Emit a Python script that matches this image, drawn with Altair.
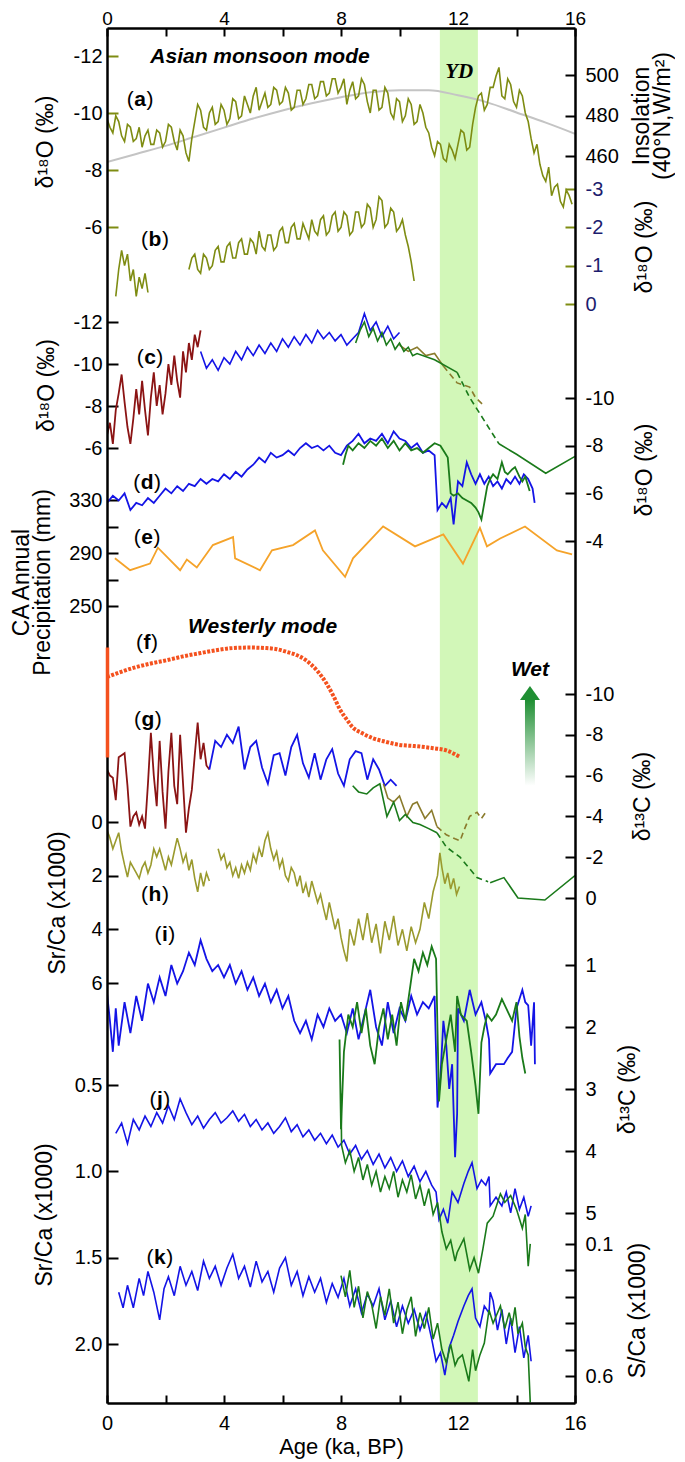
import altair as alt
import pandas as pd

FONT = "Liberation Sans"
SERIF = "Liberation Serif"
TOP = 28
W, H = 468, 1375

# ---------------- data ----------------
A_AGE = [round(0.1 * i, 1) for i in range(160)]
A_VAL = [-9.8, -9.5, -9.3, -9.9, -9.7, -9.2, -9.0, -9.6, -9.5, -9.0,
         -9.1, -9.5, -8.8, -9.2, -9.4, -8.9, -8.9, -9.4, -9.3, -8.8,
         -9.0, -9.6, -9.5, -9.0, -8.7, -9.4, -9.2, -8.6, -8.3, -9.1,
         -9.7, -10.3, -10.1, -9.5, -9.4, -10.0, -10.2, -9.6, -9.7, -10.3,
         -10.1, -9.6, -9.8, -10.5, -10.4, -9.8, -9.9, -10.6, -10.3, -10.0,
         -10.6, -10.9, -10.1, -10.4, -10.7, -10.2, -10.3, -10.9, -10.8, -10.3,
         -10.4, -10.9, -10.7, -10.1, -10.2, -10.8, -10.8, -10.3, -10.5, -11.0,
         -11.0, -10.5, -10.6, -11.1, -11.1, -10.6, -10.7, -11.2, -11.2, -10.7,
         -10.9, -11.2, -10.3, -10.8, -11.1, -10.5, -10.6, -11.2, -11.0, -10.4,
         -10.0, -10.8, -10.8, -10.1, -10.2, -10.9, -10.7, -10.0, -9.8, -10.5,
         -10.4, -9.7, -9.9, -10.5, -10.3, -9.6, -9.7, -10.3, -10.0, -9.5,
         -9.3, -8.8, -8.5, -9.0, -8.9, -8.4, -8.3, -8.9, -8.7, -8.4,
         -8.9, -9.4, -9.3, -8.7, -8.8, -9.6, -10.2, -10.6, -10.7, -10.1,
         -10.3, -10.9, -10.9, -11.3, -11.6, -10.6, -10.5, -11.2, -11.0, -10.4,
         -10.2, -10.8, -10.6, -10.0, -9.7, -9.1, -8.6, -8.9, -8.2, -7.8,
         -7.6, -8.1, -7.1, -7.4, -7.5, -6.9, -6.7, -7.3, -7.1, -6.8]

INS_AGE = list(range(17))
INS_VAL = [457, 461, 465, 469.5, 474, 478.5, 482.5, 486, 489, 491.5, 492.5, 492.5,
           490, 486.5, 481.5, 476.5, 471]

B1_AGE = [0.3, 0.4, 0.5, 0.6, 0.7, 0.8, 0.9, 1.0, 1.1, 1.2, 1.3, 1.4]
B1_VAL = [-0.2, -0.9, -1.4, -1.0, -1.3, -0.6, -0.9, -0.2, -0.7, -0.4, -0.8, -0.3]
B2_AGE = [round(2.8 + 0.1 * i, 1) for i in range(78)]
B2_VAL = [-0.9, -1.2, -1.3, -0.9, -0.8, -1.3, -1.2, -0.9, -1.0, -1.4,
          -1.5, -1.1, -1.1, -1.5, -1.6, -1.2, -1.2, -1.6, -1.7, -1.3,
          -1.3, -1.7, -1.6, -1.3, -1.9, -1.5, -1.4, -1.8, -1.8, -1.4,
          -1.5, -1.9, -2.0, -1.6, -1.6, -2.0, -2.1, -1.7, -1.7, -2.1,
          -1.9, -1.7, -2.2, -1.9, -1.8, -2.2, -2.3, -1.8, -1.9, -2.3,
          -2.4, -1.9, -2.0, -2.4, -2.3, -1.8, -1.9, -2.4, -2.4, -2.0,
          -2.1, -2.6, -2.5, -2.0, -2.2, -2.8, -2.7, -2.0, -2.1, -2.5,
          -2.4, -1.9, -2.0, -2.2, -1.8, -1.5, -1.1, -0.6]

C_RED_AGE = [round(0.1 * i, 1) for i in range(33)]
C_RED_VAL = [-6.6, -7.2, -6.2, -7.8, -8.6, -9.5, -8.2, -7.0, -6.2, -7.4,
             -8.8, -7.6, -9.2, -7.8, -6.6, -8.4, -9.6, -8.0, -9.0, -7.6,
             -8.6, -10.0, -9.0, -10.4, -9.2, -8.4, -10.6, -9.6, -11.0, -10.2,
             -11.4, -10.8, -11.6]
C_BLUE_AGE = [round(3.2 + 0.2 * i, 1) for i in range(35)]
C_BLUE_VAL = [-10.6, -9.8, -10.2, -9.7, -10.3, -10.0, -10.6, -10.2, -10.8, -10.4,
              -10.9, -10.5, -11.0, -10.6, -11.2, -10.8, -11.3, -10.9, -11.4, -11.0,
              -11.6, -11.2, -11.5, -11.1, -11.4, -10.9, -11.2, -11.5, -12.4, -11.6,
              -12.0, -11.3, -11.8, -11.2, -11.5]
C_GREEN_AGE = [8.5, 8.65, 8.8, 8.95, 9.1, 9.25, 9.4, 9.55, 9.7, 9.85, 10.0, 10.15, 10.3, 10.45, 10.6, 11.2, 11.97]
C_GREEN_VAL = [-11.0, -11.6, -12.0, -11.3, -11.7, -11.1, -11.5, -10.9, -11.2, -10.7, -11.0, -10.6, -10.8, -10.4, -10.5, -10.2, -9.6]
C_GREEN_D_AGE = [11.97, 12.4, 13.4]
C_GREEN_D_VAL = [-9.6, -8.4, -6.2]
C_GREEN_S_AGE = [13.4, 14.0, 15.0, 16.0]
C_GREEN_S_VAL = [-6.2, -5.7, -4.8, -5.6]
C_BROWN_AGE = [10.0, 10.3, 10.6, 10.9, 11.2, 11.5]
C_BROWN_VAL = [-10.9, -10.6, -10.8, -10.4, -10.5, -9.9]
C_BROWN_D_AGE = [11.5, 11.97, 12.4, 12.6, 12.9]
C_BROWN_D_VAL = [-9.9, -9.1, -8.9, -8.4, -8.0]

D_BLUE_AGE = [round(0.2 * i, 1) for i in range(57)] + [
    11.3, 11.45, 11.6, 11.75, 11.85, 12.0, 12.15, 12.3, 12.45, 12.6, 12.75, 12.9,
    13.05, 13.2, 13.35, 13.5, 13.65, 13.8, 13.95, 14.1, 14.25, 14.4, 14.55, 14.62]
D_BLUE_VAL = [-5.6, -5.9, -5.7, -6.0, -5.3, -5.6, -5.5, -5.8, -5.6, -5.9,
              -6.2, -6.0, -6.3, -6.1, -6.4, -6.3, -6.6, -6.4, -6.6, -6.5,
              -6.8, -6.6, -6.9, -6.7, -7.0, -7.2, -7.5, -7.3, -7.7, -7.5,
              -7.6, -7.8, -7.6, -7.9, -8.1, -7.9, -8.0, -7.8, -8.0, -7.7,
              -7.6, -8.0, -8.2, -8.5, -8.1, -8.3, -8.2, -8.5, -8.1, -8.6,
              -8.3, -8.2, -7.9, -8.1, -7.7, -7.8, -7.6,
              -5.3, -5.6, -5.4, -5.8, -4.7, -6.5, -6.3, -7.3, -6.8, -6.4, -6.8, -6.4,
              -6.7, -6.3, -6.5, -6.2, -6.6, -6.4, -6.7, -6.4, -6.8, -6.6, -6.2, -5.6]
D_GREEN_AGE = [8.07, 8.15, 8.25, 8.4, 8.6, 8.8, 9.0, 9.2, 9.4, 9.6, 9.8, 10.0, 10.2, 10.4,
               10.6, 10.8, 11.0, 11.2, 11.4, 11.55, 11.65, 11.75, 11.85, 12.0, 12.15, 12.3,
               12.45, 12.6, 12.7, 12.8, 12.9, 13.0, 13.1, 13.2, 13.35, 13.5, 13.6, 13.7,
               13.85, 13.95, 14.1, 14.2, 14.3, 14.45]
D_GREEN_VAL = [-7.2, -7.6, -8.0, -7.8, -8.1, -7.9, -8.2, -8.0, -8.3, -7.9, -8.2, -7.8, -8.1, -7.8,
               -7.9, -7.7, -7.9, -8.1, -8.0, -7.7, -7.5, -6.0, -5.9, -6.0, -5.8, -5.7,
               -5.6, -5.4, -5.2, -4.9, -5.6, -6.3, -6.6, -6.8, -6.6, -7.3, -6.9, -6.8,
               -7.0, -7.1, -6.7, -6.5, -6.7, -6.1]

E_AGE = [0.27, 0.79, 1.47, 1.74, 2.5, 2.73, 3.07, 3.62, 4.31, 4.38, 5.23, 5.64, 6.36, 7.11,
         7.38, 8.14, 8.41, 9.44, 10.53, 11.5, 12.17, 12.75, 12.99, 13.44, 14.29, 15.38, 15.9]
E_VAL = [286, 277, 282, 294, 277, 285, 279, 296, 302, 286, 277, 292, 296, 307,
         292, 272, 286, 310, 295, 304, 282, 309, 295, 301, 310, 292, 289]

F_AGE = [0.0, 0.9, 1.5, 2.05, 2.6, 3.2, 3.7, 4.3, 4.9, 5.45, 5.8, 6.15, 6.5, 6.8, 7.2, 7.5,
         7.75, 7.97, 8.2, 8.4, 8.7, 9.1, 9.5, 10.0, 10.5, 11.15, 11.6, 12.07]
F_VAL = [0.727, 0.81, 0.85, 0.88, 0.915, 0.945, 0.97, 0.99, 0.995, 0.99, 0.98, 0.955, 0.925,
         0.88, 0.78, 0.67, 0.55, 0.43, 0.34, 0.27, 0.22, 0.17, 0.14, 0.11, 0.1, 0.08, 0.06, 0.0]

G_RED_AGE = [round(0.1 * i, 1) for i in range(36)]
G_RED_VAL = [-6.3, -6.0, -5.9, -4.8, -6.9, -7.0, -7.1, -5.5, -3.5, -4.0,
             -4.2, -3.6, -4.0, -3.4, -5.6, -8.1, -6.0, -4.5, -7.7, -5.2,
             -3.4, -6.2, -8.1, -5.5, -4.6, -8.0, -5.6, -3.2, -4.4, -5.3,
             -7.0, -8.6, -6.8, -7.6, -6.5, -6.3]
G_BLUE_AGE = [round(3.5 + 0.2 * i, 1) for i in range(33)]
G_BLUE_VAL = [-6.3, -7.7, -7.4, -8.0, -7.6, -8.4, -6.3, -7.4, -7.7, -6.4,
              -5.6, -7.0, -7.1, -6.0, -7.4, -8.0, -6.6, -5.9, -7.1, -5.8,
              -6.8, -7.3, -6.1, -5.5, -6.8, -7.2, -7.1, -5.8, -6.8, -6.3,
              -5.5, -5.8, -5.5]
G_GREEN_AGE = [8.4, 8.6, 8.88, 9.1, 9.33, 9.57, 9.8, 10.0, 10.2, 10.46, 10.7, 11.0, 11.28]
G_GREEN_VAL = [-5.5, -5.2, -5.1, -5.4, -5.6, -4.0, -4.7, -3.8, -4.1, -3.7, -3.6, -3.4, -3.2]
G_GREEN_D_AGE = [11.28, 11.6, 12.07, 12.65, 13.03]
G_GREEN_D_VAL = [-3.2, -2.5, -2.0, -1.0, -0.8]
G_GREEN_S_AGE = [13.1, 13.57, 14.05, 14.97, 16.0]
G_GREEN_S_VAL = [-0.75, -1.0, 0.0, 0.1, -1.1]
G_OLIVE_AGE = [9.45, 9.6, 9.8, 10.0, 10.25, 10.45, 10.6, 10.87, 11.1, 11.28]
G_OLIVE_VAL = [-5.6, -4.9, -4.7, -5.0, -4.0, -4.6, -4.7, -3.9, -4.3, -3.5]
G_OLIVE_D_AGE = [11.28, 11.6, 11.9, 12.07, 12.2, 12.4, 12.65, 12.8, 13.0]
G_OLIVE_D_VAL = [-3.5, -3.1, -2.9, -2.8, -3.3, -4.0, -4.2, -3.9, -4.3]

H1_AGE = [round(0.1 * i, 1) for i in range(36)]
H1_VAL = [0.3, 0.6, 1.0, 0.7, 0.4, 1.1, 1.6, 2.05, 1.5, 1.7,
          1.9, 2.1, 1.7, 1.5, 1.9, 1.6, 1.0, 1.3, 1.0, 1.4,
          1.8, 1.3, 1.6, 1.1, 0.6, 1.0, 1.5, 1.2, 1.8, 1.4,
          2.1, 2.6, 1.9, 2.4, 1.9, 2.2]
H2_AGE = [round(3.8 + 0.1 * i, 1) for i in range(42)] + [
    8.0, 8.1, 8.2, 8.3, 8.45, 8.6, 8.75, 8.9, 9.05, 9.2, 9.35, 9.5, 9.65, 9.8, 9.95, 10.1,
    10.25, 10.4, 10.55, 10.7, 10.85, 11.0, 11.15, 11.3, 11.38, 11.45, 11.55, 11.65, 11.75,
    11.85, 11.95, 12.05]
H2_VAL = [1.0, 1.4, 1.2, 1.7, 1.5, 2.0, 1.7, 2.1, 1.6, 1.9,
          1.5, 1.8, 1.2, 1.5, 0.97, 1.3, 0.7, 0.4, 1.0, 1.4,
          1.1, 1.7, 1.4, 2.0, 2.2, 1.7, 1.9, 2.4, 2.0, 2.65,
          2.3, 2.8, 2.2, 2.6, 3.0, 2.7, 3.2, 3.65, 3.0, 3.5,
          4.0, 3.6,
          4.3, 4.8, 5.2, 4.0, 4.6, 3.6, 4.4, 3.4, 4.5, 3.8, 4.9, 3.7, 4.4, 3.5, 4.6, 4.0,
          4.8, 3.9, 4.5, 4.0, 3.0, 3.6, 2.6, 2.0, 1.15, 1.7, 2.3, 1.9, 2.5,
          2.1, 2.7, 2.4]

I_BLUE_AGE = [0.0, 0.1, 0.2, 0.3] + [round(0.4 + 0.2 * i, 1) for i in range(55)] + [
    11.3, 11.4, 11.5, 11.6, 11.7, 11.8, 11.9, 11.97, 12.0, 12.2, 12.4, 12.6, 12.8, 12.95,
    13.06, 13.1, 13.3, 13.57, 13.7, 13.85, 14.0, 14.2, 14.3, 14.4, 14.5, 14.6, 14.63]
I_BLUE_VAL = [1.45, 1.9, 2.4, 1.7,
              2.3, 1.6, 2.1, 1.5, 1.9, 1.3, 1.6, 1.2, 1.5, 1.0,
              1.3, 1.1, 0.8, 1.0, 0.6, 0.9, 1.1, 1.0, 1.2, 1.0,
              1.3, 1.1, 1.4, 1.2, 1.5, 1.3, 1.6, 1.4, 1.7, 1.5,
              1.9, 2.1, 1.9, 2.2, 1.8, 2.0, 1.7, 1.9, 1.8, 2.1,
              1.7, 2.2, 1.8, 1.4, 2.0, 2.3, 1.6, 2.1, 1.7, 1.9,
              1.5, 1.8, 1.6, 1.7, 1.5,
              3.3, 2.8, 1.9, 2.3, 3.0, 2.6, 4.1, 3.4, 1.7, 1.9, 1.4, 1.8, 1.6, 1.9,
              2.2, 2.75, 2.6, 2.6, 2.5, 2.4, 1.7, 1.4, 1.6, 1.65, 2.3, 1.6, 2.6]
I_GREEN_AGE = [7.95, 8.0, 8.1, 8.25, 8.4, 8.55, 8.7, 8.85, 9.0, 9.15, 9.3, 9.45, 9.6, 9.75,
               9.9, 10.05, 10.2, 10.35, 10.5, 10.65, 10.8, 10.95, 11.1, 11.25, 11.35, 11.45,
               11.6, 11.75, 11.9, 11.97, 12.1, 12.3, 12.45, 12.6, 12.7, 12.8, 12.9, 13.0,
               13.15, 13.3, 13.5, 13.65, 13.85, 14.0, 14.1, 14.2, 14.3]
I_GREEN_VAL = [2.2, 3.65, 2.4, 1.8, 2.0, 1.6, 2.1, 1.7, 2.3, 2.6, 2.0, 1.7, 2.2, 1.8,
               2.3, 1.6, 1.9, 1.4, 0.9, 1.1, 0.8, 1.0, 0.7, 0.9, 3.2, 2.6,
               2.2, 1.8, 2.4, 1.5, 1.8, 1.9, 2.4, 2.95, 3.4, 2.25, 2.0, 1.8,
               1.9, 1.8, 1.55, 1.7, 1.9, 1.6, 2.15, 2.5, 2.75]

J_BLUE_AGE = [round(0.3 + 0.2 * i, 1) for i in range(55)] + [
    11.25, 11.35, 11.5, 11.65, 11.8, 12.0, 12.2, 12.35, 12.48, 12.65, 12.8, 12.95, 13.06,
    13.1, 13.3, 13.5, 13.65, 13.8, 13.95, 14.1, 14.25, 14.4, 14.5]
J_BLUE_VAL = [0.78, 0.72, 0.84, 0.70, 0.76, 0.68, 0.74, 0.66, 0.72, 0.62,
              0.70, 0.58, 0.66, 0.73, 0.68, 0.75, 0.70, 0.66, 0.72, 0.69,
              0.65, 0.71, 0.67, 0.74, 0.70, 0.76, 0.72, 0.78, 0.74, 0.69,
              0.77, 0.73, 0.80, 0.76, 0.82, 0.78, 0.84, 0.79, 0.86, 0.82,
              0.90, 0.85, 0.93, 0.88, 0.96, 0.90, 0.98, 0.92, 1.00, 0.94,
              1.03, 0.97, 1.06, 1.00, 1.08,
              1.12, 1.28, 1.22, 1.30, 1.12, 1.18, 1.07, 1.00, 0.95, 1.10, 1.05, 1.08, 1.03,
              1.20, 1.15, 1.20, 1.12, 1.24, 1.10, 1.22, 1.15, 1.26, 1.20]
J_GREEN_AGE = [8.0, 8.02, 8.15, 8.3, 8.45, 8.6, 8.75, 8.9, 9.05, 9.2, 9.35, 9.5, 9.65, 9.8,
               9.95, 10.1, 10.25, 10.4, 10.55, 10.7, 10.85, 11.0, 11.15, 11.3, 11.45, 11.6,
               11.75, 11.9, 11.97, 12.2, 12.4, 12.55, 12.7, 12.85, 13.0, 13.2, 13.45, 13.6,
               13.8, 14.0, 14.2, 14.3, 14.4, 14.47]
J_GREEN_VAL = [0.55, 0.85, 0.95, 0.88, 1.00, 0.92, 1.05, 0.96, 1.08, 1.00, 1.12, 1.03, 1.10, 1.00,
               1.15, 1.05, 1.12, 1.02, 1.16, 1.08, 1.20, 1.10, 1.25, 1.18, 1.35, 1.45,
               1.40, 1.52, 1.47, 1.39, 1.57, 1.50, 1.59, 1.45, 1.30, 1.26, 1.13, 1.18,
               1.14, 1.22, 1.33, 1.25, 1.55, 1.42]

K_BLUE_AGE = [0.4, 0.55, 0.7, 0.9, 1.1, 1.25, 1.4, 1.6, 1.8, 1.95] + [round(2.1 + 0.2 * i, 1) for i in range(46)] + [
    11.25, 11.4, 11.55, 11.7, 11.85, 12.0, 12.2, 12.35, 12.48, 12.6, 12.75, 12.9, 13.06,
    13.1, 13.2, 13.35, 13.5, 13.65, 13.8, 13.95, 14.1, 14.25, 14.4, 14.5]
K_BLUE_VAL = [1.70, 1.79, 1.66, 1.79, 1.62, 1.72, 1.58, 1.70, 1.86, 1.68,
              1.61, 1.72, 1.55, 1.66, 1.58, 1.69, 1.52, 1.62, 1.55, 1.66,
              1.56, 1.48, 1.62, 1.55, 1.67, 1.52, 1.64, 1.58, 1.70, 1.56,
              1.50, 1.66, 1.58, 1.72, 1.61, 1.70, 1.62, 1.76, 1.65, 1.73,
              1.62, 1.78, 1.68, 1.82, 1.71, 1.78, 1.68, 1.86, 1.75, 1.90,
              1.78, 1.88, 1.80, 1.92, 1.82, 1.97,
              2.10, 2.05, 2.18, 2.02, 1.95, 1.87, 1.78, 1.72, 1.68, 1.85, 1.90, 1.78, 1.82,
              1.70, 1.75, 1.92, 1.80, 2.00, 1.85, 2.05, 1.90, 2.08, 1.95, 2.10]
K_GREEN_AGE = [8.0, 8.15, 8.3, 8.45, 8.6, 8.75, 8.9, 9.05, 9.2, 9.35, 9.5, 9.65, 9.8, 9.95,
               10.1, 10.25, 10.4, 10.55, 10.7, 10.85, 11.0, 11.15, 11.3, 11.45, 11.6, 11.75,
               11.9, 12.0, 12.15, 12.37, 12.5, 12.6, 12.75, 12.9, 13.06, 13.2, 13.45, 13.6,
               13.75, 13.85, 13.95, 14.05, 14.2, 14.3, 14.4, 14.47]
K_GREEN_VAL = [0.22, 0.30, 0.20, 0.34, 0.26, 0.38, 0.28, 0.33, 0.42, 0.30, 0.37, 0.27, 0.40, 0.32,
               0.44, 0.35, 0.30, 0.45, 0.36, 0.42, 0.34, 0.46, 0.40, 0.50, 0.55, 0.48,
               0.56, 0.535, 0.52, 0.62, 0.50, 0.58, 0.52, 0.475, 0.35, 0.40, 0.335, 0.42,
               0.36, 0.41, 0.34, 0.44, 0.40, 0.49, 0.52, 0.70]

YD_START, YD_END = 11.38, 12.68

# panel labels: letter, age, value on that panel's own scale
LABELS = {
    "a": (1.13, -10.46), "b": (1.64, -1.67), "c": (1.47, -10.3), "d": (1.37, -6.43),
    "e": (1.37, 301.3), "f": (1.37, 1.036), "g": (1.4, -8.73), "h": (1.64, 2.72),
    "i": (1.98, 0.52), "j": (1.81, 0.587), "k": (1.81, 1.5),
}
# bold letter advance widths (em) used to space the parentheses
LETTER_EM = {"a": .556, "b": .611, "c": .556, "d": .611, "e": .556, "f": .333, "g": .611,
             "h": .611, "i": .278, "j": .278, "k": .556}

# ---------------- styling ----------------
OLIVE = "#7e8c12"
OLIVE_H = "#9a9a2e"
BROWN = "#8a7b2c"
DRED = "#8b1414"
BLUE = "#1414e6"
GREEN = "#1a7a1a"
ORANGE = "#f5a32a"
FRED = "#f4511e"
GRAY = "#c4c4c4"
NAVY = "#1c1c6e"
YDC = "#d2f7b8"
MINUS = "\u2212"
LSIZE = 21

XS = alt.Scale(domain=[0, 16], nice=False, zero=False)


def X(field="age", axis=None):
    return alt.X(f"{field}:Q", scale=XS, axis=axis)


def ysc(lo, hi, p_lo, p_hi):
    return alt.Scale(domain=[lo, hi], range=[p_lo - TOP, p_hi - TOP], zero=False, nice=False)


def yaxis(orient, values, title, title_abs_x, label_expr=None, tick_color="black",
          label_color="black", title_abs_y=None, fmt=None):
    left = orient == "left"
    origin = 107 + 11 if left else 107 + W - 10
    expr = f"replace(datum.label, '{MINUS}', '-')"
    if label_expr:
        expr = f"({label_expr}) ? {expr} : ''"
    kw = dict(orient=orient, values=values, title=title, offset=-11 if left else -10,
              tickSize=11 if left else 10, tickWidth=2, tickColor=tick_color,
              domain=False, grid=False, labelColor=label_color, labelFont=FONT,
              labelFontSize=20, labelPadding=5 if left else 10, labelOverlap=False,
              labelExpr=expr, titleFont=FONT, titleFontSize=23, titleFontWeight="normal",
              titleColor="black", titleAngle=270, titleAlign="center",
              titleBaseline="middle", titleX=title_abs_x - origin, titleLineHeight=21)
    if fmt:
        kw["format"] = fmt
    if title_abs_y is not None:
        kw["titleY"] = title_abs_y - TOP
    return alt.Axis(**kw)


class Panel:
    """All marks of one panel share one y scale and one axis definition."""

    def __init__(self, ys, ax):
        self.ys, self.ax, self.items = ys, ax, []

    def Y(self, field="v"):
        return alt.Y(f"{field}:Q", scale=self.ys, axis=self.ax)

    def line(self, ages, vals, color, dash=None, sw=1.6, interp="linear"):
        df = pd.DataFrame({"age": ages, "v": vals})
        props = dict(color=color, strokeWidth=sw, interpolate=interp, clip=True)
        if dash is not None:
            props["strokeDash"] = dash
        self.items.append(alt.Chart(df).mark_line(**props).encode(x=X(), y=self.Y()))
        return self

    def note(self, text, age, v, font=FONT, size=21):
        df = pd.DataFrame({"age": [age], "v": [v], "t": [text]})
        self.items.append(alt.Chart(df).mark_text(
            font=font, fontSize=size, fontWeight="bold", fontStyle="italic", align="center",
            baseline="middle", color="black").encode(x=X(), y=self.Y(), text="t:N"))
        return self

    def label(self, letter):
        age, v = LABELS[letter]
        half = LETTER_EM[letter] * LSIZE / 2 + 0.5
        df = pd.DataFrame({"age": [age], "v": [v], "l": [letter], "o": ["("], "c": [")"]})
        base = alt.Chart(df).encode(x=X(), y=self.Y())
        self.items += [
            base.mark_text(font=FONT, fontSize=LSIZE, align="right", baseline="middle",
                           dx=-half, color="black").encode(text="o:N"),
            base.mark_text(font=FONT, fontSize=LSIZE, fontWeight="bold", align="center",
                           baseline="middle", color="black").encode(text="l:N"),
            base.mark_text(font=FONT, fontSize=LSIZE, align="left", baseline="middle",
                           dx=half, color="black").encode(text="c:N"),
        ]
        return self

    def add(self, chart):
        self.items.append(chart)
        return self

    def chart(self):
        return alt.layer(*self.items)


# ---------------- scales & axes ----------------
S_A = ysc(-12, -6, 56, 227)
S_INS = ysc(460, 500, 156, 75)
S_B = ysc(-3, 0, 189, 304)
S_C = ysc(-12, -6, 322, 448)
S_D = ysc(-10, -4, 398, 541)
S_E = ysc(250, 330, 606, 500)
S_F = ysc(0, 1, 757, 647)
S_G = ysc(-10, 0, 694, 898)
S_H = ysc(0, 6, 822, 983)
S_I = ysc(1, 5, 965, 1213)
S_JK = ysc(0.5, 2.0, 1085, 1344)
S_SCA = ysc(0.1, 0.6, 1244, 1376)

D18 = "δ¹⁸O (‰)"
D13 = "δ¹³C (‰)"

ax_A = yaxis("left", [-12, -10, -8, -6], D18, 45, tick_color=OLIVE)
ax_INS = yaxis("right", [460, 480, 500], ["Insolation", "(40°N,W/m²)"], 641)
ax_B = yaxis("right", [-3, -2, -1, 0], D18, 644, tick_color=OLIVE, label_color=NAVY)
ax_C = yaxis("left", [-12, -10, -8, -6], D18, 46)
ax_D = yaxis("right", [-10, -8, -6, -4], D18, 644)
ax_E = yaxis("left", [250, 270, 290, 310, 330], ["CA  Annual", "Precipitation (mm)"], 21,
             label_expr="datum.value == 250 || datum.value == 290 || datum.value == 330",
             title_abs_y=582)
ax_F = alt.Axis(orient="left", offset=0, domain=True, domainColor=FRED, domainWidth=3.5,
                ticks=False, labels=False, title=None, grid=False, zindex=2)
ax_G = yaxis("right", [-10, -8, -6, -4, -2, 0], D13, 642)
ax_H = yaxis("left", [0, 2, 4, 6], "Sr/Ca (x1000)", 57)
ax_I = yaxis("right", [1, 2, 3, 4, 5], D13, 627)
ax_JK = yaxis("left", [0.5, 1.0, 1.5, 2.0], "Sr/Ca (x1000)", 44, fmt=".1f")
ax_SCA = yaxis("right", [0.1, 0.2, 0.3, 0.4, 0.5, 0.6], "S/Ca (x1000)", 637, fmt=".1f",
               label_expr="datum.value < 0.15 || datum.value > 0.55")

# ---------------- frame, band and x axes ----------------
yd = alt.Chart(pd.DataFrame({"x0": [YD_START], "x1": [YD_END]})).mark_rect(color=YDC).encode(
    x=X("x0"), x2="x1:Q")

dummy = pd.DataFrame({"age": [0], "v": [0]})
frame_ax = dict(domain=True, domainColor="black", domainWidth=2.5, ticks=False, labels=False,
                title=None, grid=False, zindex=1)
frame1 = alt.Chart(dummy).mark_point(opacity=0).encode(
    x=X(axis=alt.Axis(orient="top", **frame_ax)),
    y=alt.Y("v:Q", scale=alt.Scale(domain=[0, 1]), axis=alt.Axis(orient="left", **frame_ax)))
frame2 = alt.Chart(dummy).mark_point(opacity=0).encode(
    x=X(axis=alt.Axis(orient="bottom", **frame_ax)),
    y=alt.Y("v:Q", scale=alt.Scale(domain=[0, 1]), axis=alt.Axis(orient="right", **frame_ax)))

x_common = dict(values=list(range(0, 17, 2)), labelExpr="datum.value % 4 == 0 ? datum.label : ''",
                offset=-8, tickSize=8, tickWidth=2, tickColor="black", domain=False, grid=False,
                labelFlush=False, labelOverlap=False, labelFont=FONT, labelColor="black")
x_top = alt.Chart(dummy).mark_point(opacity=0).encode(
    x=X(axis=alt.Axis(orient="top", labelPadding=0, labelFontSize=19, title=None, **x_common)))
x_bot = alt.Chart(dummy).mark_point(opacity=0).encode(
    x=X(axis=alt.Axis(orient="bottom", labelPadding=10, labelFontSize=20, title="Age (ka, BP)",
                      titleFont=FONT, titleFontSize=22, titleFontWeight="normal",
                      titleColor="black", titlePadding=3, **x_common)))

# ---------------- panels ----------------
pA = (Panel(S_A, ax_A).line(A_AGE, A_VAL, OLIVE, sw=1.6)
      .note("Asian monsoon mode", 5.23, -11.96)
      .note("YD", 12.04, -11.44, font=SERIF, size=21)
      .label("a"))
pINS = Panel(S_INS, ax_INS).line(INS_AGE, INS_VAL, GRAY, sw=2, interp="monotone")
pB = (Panel(S_B, ax_B).line(B1_AGE, B1_VAL, OLIVE).line(B2_AGE, B2_VAL, OLIVE).label("b"))
pC = (Panel(S_C, ax_C).line(C_RED_AGE, C_RED_VAL, DRED, sw=1.8)
      .line(C_BLUE_AGE, C_BLUE_VAL, BLUE)
      .line(C_BROWN_AGE, C_BROWN_VAL, BROWN)
      .line(C_BROWN_D_AGE, C_BROWN_D_VAL, BROWN, dash=[6, 4])
      .line(C_GREEN_AGE, C_GREEN_VAL, GREEN)
      .line(C_GREEN_D_AGE, C_GREEN_D_VAL, GREEN, dash=[6, 4])
      .line(C_GREEN_S_AGE, C_GREEN_S_VAL, GREEN)
      .label("c"))
pD = (Panel(S_D, ax_D).line(D_BLUE_AGE, D_BLUE_VAL, BLUE, sw=1.8)
      .line(D_GREEN_AGE, D_GREEN_VAL, GREEN, sw=1.8).label("d"))
pE = Panel(S_E, ax_E).line(E_AGE, E_VAL, ORANGE, sw=1.8).label("e")
pF = (Panel(S_F, ax_F).line(F_AGE, F_VAL, FRED, sw=4, dash=[3, 1.5], interp="monotone")
      .note("Westerly mode", 5.32, 1.18).label("f"))

pG = Panel(S_G, ax_G)
arrow_grad = alt.LinearGradient(gradient="linear",
                                stops=[alt.GradientStop(color="#1f8f33", offset=0),
                                       alt.GradientStop(color="#ffffff", offset=1)],
                                x1=0, x2=0, y1=0, y2=1)
shaft = alt.Chart(pd.DataFrame({"a0": [14.29], "a1": [14.63], "v0": [-9.7], "v1": [-5.5]})).mark_rect(
    color=arrow_grad).encode(x=X("a0"), x2="a1:Q", y=pG.Y("v0"), y2="v1:Q")
head = alt.Chart(pd.DataFrame({"age": [14.46], "v": [-10.05]})).mark_point(
    shape="M0,-0.7L1,0.7L-1,0.7Z", size=400, filled=True, color="#1f8f33", opacity=1).encode(
    x=X(), y=pG.Y())
(pG.line(G_RED_AGE, G_RED_VAL, DRED, sw=1.8)
   .line(G_BLUE_AGE, G_BLUE_VAL, BLUE, sw=1.8)
   .line(G_OLIVE_AGE, G_OLIVE_VAL, BROWN)
   .line(G_OLIVE_D_AGE, G_OLIVE_D_VAL, BROWN, dash=[6, 4])
   .line(G_GREEN_AGE, G_GREEN_VAL, GREEN)
   .line(G_GREEN_D_AGE, G_GREEN_D_VAL, GREEN, dash=[6, 4])
   .line(G_GREEN_S_AGE, G_GREEN_S_VAL, GREEN)
   .add(shaft).add(head)
   .note("Wet", 14.46, -11.18)
   .label("g"))
pH = Panel(S_H, ax_H).line(H1_AGE, H1_VAL, OLIVE_H).line(H2_AGE, H2_VAL, OLIVE_H).label("h")
pI = (Panel(S_I, ax_I).line(I_BLUE_AGE, I_BLUE_VAL, BLUE, sw=1.8)
      .line(I_GREEN_AGE, I_GREEN_VAL, GREEN, sw=1.8).label("i"))
pJK = (Panel(S_JK, ax_JK).line(J_BLUE_AGE, J_BLUE_VAL, BLUE)
       .line(J_GREEN_AGE, J_GREEN_VAL, GREEN)
       .line(K_BLUE_AGE, K_BLUE_VAL, BLUE)
       .label("j").label("k"))
pSCA = Panel(S_SCA, ax_SCA).line(K_GREEN_AGE, K_GREEN_VAL, GREEN)

chart = alt.layer(
    yd, frame1, frame2, x_top, x_bot,
    *[p.chart() for p in (pINS, pA, pB, pC, pD, pE, pF, pG, pH, pI, pJK, pSCA)],
).resolve_scale(y="independent").resolve_axis(y="independent", x="independent").properties(
    width=W, height=H,
    autosize=alt.AutoSizeParams(type="none"),
    padding={"left": 99, "top": 20, "right": 100, "bottom": 70},
).configure_view(stroke="transparent")

chart.save("out.html", embed_options={"renderer": "svg", "actions": False})
